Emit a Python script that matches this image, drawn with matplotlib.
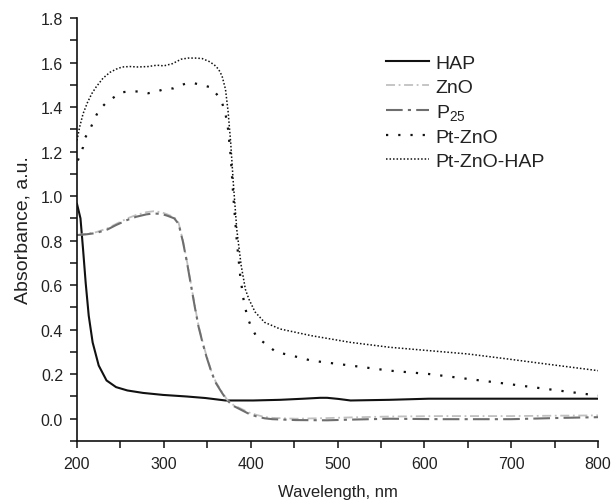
import matplotlib
matplotlib.use("Agg")
import matplotlib.pyplot as plt
from matplotlib.ticker import MultipleLocator

plt.rcParams['font.family'] = ['Liberation Sans', 'DejaVu Sans']
plt.rcParams['mathtext.fontset'] = 'custom'
plt.rcParams['mathtext.rm'] = 'Liberation Sans'
plt.rcParams['mathtext.it'] = 'Liberation Sans'
plt.rcParams['mathtext.default'] = 'regular'

# spectra (wavelength nm, absorbance a.u.)
hap_x = [200, 204, 207, 210, 213.5, 218, 225, 234, 245, 258, 276, 299, 326, 348, 371,
         403, 434, 461, 480, 488, 501, 515, 560, 605, 700, 800]
hap_y = [0.965, 0.90, 0.76, 0.61, 0.463, 0.343, 0.239, 0.172, 0.142, 0.127, 0.116, 0.107, 0.100, 0.093, 0.082,
         0.082, 0.085, 0.090, 0.094, 0.094, 0.089, 0.082, 0.085, 0.090, 0.090, 0.090]

zno_x = [200, 210, 222, 235, 245, 258, 268, 280, 288, 297, 304, 312, 317, 322, 327, 331, 336, 340, 345,
         349, 355, 360, 367, 373, 380, 389, 398, 407, 416, 425, 452, 488, 515, 560, 620, 700, 760, 800]
zno_y = [0.825, 0.83, 0.838, 0.855, 0.875, 0.900, 0.915, 0.928, 0.932, 0.928, 0.918, 0.905, 0.88, 0.80, 0.70,
         0.61, 0.50, 0.418, 0.34, 0.284, 0.21, 0.164, 0.12, 0.085, 0.062, 0.045, 0.028, 0.017, 0.008, 0.004,
         0.000, 0.003, 0.006, 0.010, 0.012, 0.012, 0.014, 0.015]
p25_x = zno_x
p25_y = [0.825, 0.828, 0.834, 0.85, 0.870, 0.893, 0.907, 0.918, 0.922, 0.920, 0.912, 0.900, 0.875, 0.795, 0.695,
         0.605, 0.495, 0.413, 0.335, 0.28, 0.207, 0.16, 0.116, 0.082, 0.058, 0.040, 0.022, 0.010, 0.002, -0.002,
         -0.006, -0.007, -0.004, 0.000, -0.002, -0.002, 0.004, 0.007]

ptzno_x = [201, 207, 209, 215, 220, 225, 233, 241, 251, 260, 270, 282, 292, 300, 311, 319, 327, 335, 344,
           354, 361, 367, 371, 374, 377, 380, 384, 388, 392, 396, 400, 407, 420, 429, 447, 470, 515, 560,
           605, 650, 695, 740, 800]
ptzno_y = [1.16, 1.22, 1.26, 1.30, 1.345, 1.385, 1.417, 1.44, 1.466, 1.47, 1.47, 1.462, 1.47, 1.48, 1.484,
           1.498, 1.507, 1.507, 1.498, 1.489, 1.457, 1.42, 1.37, 1.30, 1.18, 1.00, 0.80, 0.64, 0.53, 0.46,
           0.418, 0.366, 0.328, 0.30, 0.284, 0.261, 0.239, 0.216, 0.201, 0.179, 0.157, 0.134, 0.104]

pzh_x = [200, 203, 207, 212, 217, 222, 230, 238, 245, 252, 261, 270, 282, 292, 300, 310, 320, 328, 336, 344,
         352, 358, 363, 367, 371, 374, 377, 380, 384, 389, 394, 398, 405, 416, 434, 470, 515, 560, 605, 650,
         695, 740, 800]
pzh_y = [1.25, 1.31, 1.37, 1.42, 1.46, 1.49, 1.53, 1.556, 1.57, 1.58, 1.582, 1.58, 1.582, 1.588, 1.585,
         1.595, 1.615, 1.62, 1.62, 1.618, 1.605, 1.59, 1.57, 1.54, 1.48, 1.38, 1.24, 1.06, 0.85, 0.69, 0.58,
         0.537, 0.48, 0.433, 0.403, 0.373, 0.343, 0.321, 0.306, 0.291, 0.269, 0.246, 0.216]

yticks = [0.0, 0.2, 0.4, 0.6, 0.8, 1.0, 1.2, 1.4, 1.6, 1.8]

fig = plt.figure(figsize=(6.12, 5.02), dpi=100)
ax = fig.add_axes([77 / 612, 1 - 442 / 502, (598 - 77) / 612, (442 - 19) / 502])

ax.plot(hap_x, hap_y, color='#111111', lw=1.5, label='HAP')
ax.plot(zno_x, zno_y, color='#c0c0c0', lw=1.3, ls=(0, (5, 2, 1, 2)), label='ZnO')
ax.plot(p25_x, p25_y, color='#6e6e6e', lw=1.5, ls=(0, (8, 2.5, 1.5, 2.5)), label='P$_{25}$')
ax.plot(ptzno_x, ptzno_y, color='#111111', lw=1.6, ls=(0, (1, 4.5)), label='Pt-ZnO')
ax.plot(pzh_x, pzh_y, color='#111111', lw=1.1, ls=(0, (1, 1.3)), label='Pt-ZnO-HAP')

ax.set_xlim(200, 800)
ax.set_ylim(-0.1, 1.8)
ax.xaxis.set_major_locator(MultipleLocator(100))
ax.xaxis.set_minor_locator(MultipleLocator(50))
ax.yaxis.set_minor_locator(MultipleLocator(0.1))
ax.set_yticks(yticks)
ax.set_yticklabels([f'{v:.1f}' for v in yticks])

for s in ['top', 'right']:
    ax.spines[s].set_visible(False)
for s in ['left', 'bottom']:
    ax.spines[s].set_linewidth(1.2)
    ax.spines[s].set_color('#111111')

ax.tick_params(which='major', direction='out', length=5, width=1.1, labelsize=11.5, colors='#111111',
               labelcolor='#222222')
ax.tick_params(axis='x', which='major', pad=6)
ax.tick_params(axis='y', which='major', pad=5)
ax.tick_params(which='minor', direction='out', length=5, width=1.1, colors='#111111')

ax.set_xlabel('Wavelength, nm', fontsize=12, color='#222222', labelpad=9)
ax.set_ylabel('Absorbance, a.u.', fontsize=14, color='#222222', labelpad=7)

leg = ax.legend(loc='upper left', bbox_to_anchor=(386 / 612, 1 - 55 / 502), bbox_transform=fig.transFigure,
                frameon=False, fontsize=14, handlelength=2.2, handletextpad=0.36, labelspacing=0.33,
                borderpad=0, borderaxespad=0)
for t in leg.get_texts():
    t.set_color('#222222')

fig.savefig('out.png', dpi=100)
